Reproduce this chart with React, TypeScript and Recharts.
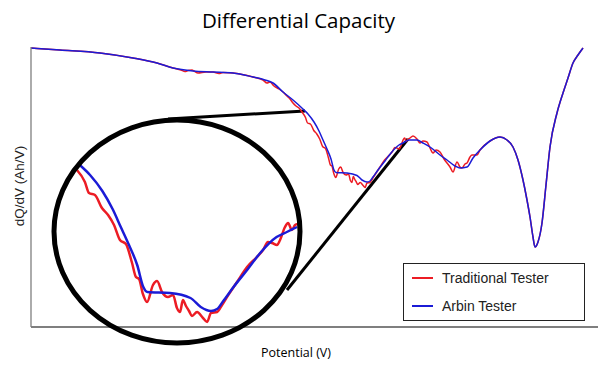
import {
  Legend,
  Line,
  LineChart,
  ReferenceDot,
  ReferenceLine,
  XAxis,
  YAxis,
} from "recharts";

// potential in plot units (0 = left axis), dQ/dV in arbitrary units (0 = bottom axis)
const ARBIN_V = [
  0, 29, 69, 102, 126, 142, 162, 182, 202, 222, 234, 242, 252, 262, 272, 277, 283, 288, 292, 296,
  300, 303, 305, 316, 326, 331, 336, 339, 342, 347, 354, 360, 368, 373, 378, 386, 392, 399, 409, 416,
  424, 429, 436, 442, 449, 459, 469, 476, 482, 487, 492, 496, 499, 502, 504, 507, 511, 515, 519, 526,
  532, 537, 542, 547, 552,
];
const ARBIN_DQDV = [
  279, 277, 274, 269, 264, 259, 256, 255, 254, 250, 247, 244, 235, 227, 218, 213, 205, 196, 187, 178,
  168, 157, 154.5, 154, 151.5, 147, 145, 146, 150, 157, 166, 174, 182, 184.5, 187, 187, 184, 180, 172, 167,
  161, 159, 160, 169, 177, 186, 190, 187, 180, 167, 147, 127, 110, 90, 80, 85, 104, 142, 180, 214,
  234, 249, 264, 272, 279,
];

const TRAD_V = [
  0, 29, 69, 102, 126, 142, 150, 154, 157, 161, 163, 167, 175, 182, 188, 192, 202, 222, 232, 236,
  239, 243, 248, 252, 256, 259, 262, 265, 268,
  270.6, 274.5, 276.5, 279.4, 282.8, 285.8, 288.7, 291.6, 294.5, 297.5, 299.4, 300.9, 302.8, 304.8,
  307.7, 309.7, 312.1, 315, 317.5, 319.4, 320.9, 322.3, 323.8, 325.3, 326.7, 329.2, 332.1, 334.1, 336,
  339, 341.4, 343.8, 348.7, 353.6, 358.4, 361.4, 363.8, 365.8, 368.2, 369.7, 372.1, 373.6, 375.5, 377,
  378.4,
  382, 386, 389, 392, 396, 399, 402, 405, 409, 413, 416, 419, 422, 426, 429, 431, 434, 436, 439, 441,
  446, 449,
  459, 469, 476, 482, 487, 492, 496, 499, 502, 504, 507, 511, 515, 519, 526, 532, 537, 542, 547, 552,
];
const TRAD_DQDV = [
  279, 277, 274, 269, 264, 259, 257, 255.5, 256.5, 257, 256, 254, 255, 255, 253.5, 254.5, 254, 250, 247, 244,
  245, 241, 238, 235, 231, 228, 224, 221, 219,
  215.5, 209.5, 204, 203, 196.5, 193, 188, 180.5, 178.5, 169, 162, 161, 153.5, 149.5,
  158, 160, 154.5, 152, 153, 146.5, 144.5, 150.5, 147.5, 145, 142.5, 144.5, 141.5, 139.5, 144,
  144.5, 148, 152, 159.5, 167, 172, 175.5, 179.5, 179, 178, 180.5, 187, 189, 185.5, 188,
  188.5,
  191, 188, 184, 186, 185, 179, 174, 177, 175, 168, 164, 160, 155, 165, 160, 159, 163, 164, 170, 172,
  172, 177,
  186, 190, 187, 180, 167, 147, 127, 110, 90, 80, 85, 104, 142, 180, 214, 234, 249, 264, 272, 279,
];

const TRAD_NAME = "Traditional Tester";
const ARBIN_NAME = "Arbin Tester";
const LEGEND_ORDER = [TRAD_NAME, ARBIN_NAME];

// x range of the plot, and the magnified window shown inside the circle
const X_MAX = 567;
const ZOOM_FROM = 270;
const ZOOM_TO = 379;

const RED = "#ec1c24";
const BLUE = "#1b1bd6";
const AXIS = "#7f7f7f";

const toPoints = (xs: number[], ys: number[]) => xs.map((x, i) => ({ x, y: ys[i] }));
const arbin = toPoints(ARBIN_V, ARBIN_DQDV);
const trad = toPoints(TRAD_V, TRAD_DQDV);
const inWindow = (p: { x: number }) => p.x >= ZOOM_FROM && p.x <= ZOOM_TO;
const arbinZoom = arbin.filter(inWindow);
const tradZoom = trad.filter(inWindow);

function LegendBox(props: any) {
  const items = (props.payload ?? [])
    .filter((e: any) => e.type !== "none")
    .sort((a: any, b: any) => LEGEND_ORDER.indexOf(a.value) - LEGEND_ORDER.indexOf(b.value));
  return (
    <div
      style={{
        width: 182,
        height: 58,
        boxSizing: "border-box",
        border: "1.5px solid #222",
        background: "#fff",
        fontFamily: '"Liberation Sans", Arial, sans-serif',
        fontSize: 14,
        color: "#222",
      }}
    >
      {items.map((e: any) => (
        <div key={e.value} style={{ display: "flex", alignItems: "center", height: 28 }}>
          <span
            style={{ display: "inline-block", width: 21, height: 2, background: e.color, marginLeft: 7.5, marginRight: 9.5 }}
          />
          {e.value}
        </div>
      ))}
    </div>
  );
}

export default function App() {
  return (
    <div style={{ position: "absolute", left: 0, top: 0, width: 600, height: 389, background: "#fff" }}>
      <div
        style={{
          position: "absolute",
          left: 0,
          top: 10,
          width: 597,
          textAlign: "center",
          fontFamily: '"Open Sans", sans-serif',
          fontSize: 20.5,
          lineHeight: "20px",
          color: "#000",
        }}
      >
        Differential Capacity
      </div>
      <div
        style={{
          position: "absolute",
          left: 196,
          top: 346,
          width: 200,
          textAlign: "center",
          fontFamily: '"Open Sans", sans-serif',
          fontSize: 12.5,
          lineHeight: "14px",
          color: "#000",
        }}
      >
        Potential (V)
      </div>
      <div
        style={{
          position: "absolute",
          left: -40,
          top: 178,
          width: 120,
          height: 16,
          lineHeight: "16px",
          textAlign: "center",
          transform: "rotate(-90deg)",
          fontFamily: '"Liberation Sans", Arial, sans-serif',
          fontSize: 13.5,
          color: "#222",
        }}
      >
        dQ/dV (Ah/V)
      </div>
      {/* bottom axis line, running out to the right edge as in the original */}
      <div style={{ position: "absolute", left: 31, top: 326.4, width: 567, height: 1.3, background: AXIS }} />

      <LineChart width={600} height={389} margin={{ top: 47, right: 2, bottom: 61, left: 30 }}>
        <XAxis
          xAxisId="main"
          dataKey="x"
          type="number"
          domain={[0, X_MAX]}
          allowDataOverflow
          height={1}
          tick={false}
          tickLine={false}
          axisLine={false}
        />
        <YAxis
          yAxisId="main"
          type="number"
          domain={[0, 280]}
          allowDataOverflow
          width={1}
          tick={false}
          tickLine={false}
          axisLine={{ stroke: AXIS, strokeWidth: 1.3 }}
        />
        <XAxis
          xAxisId="inset"
          orientation="top"
          dataKey="x"
          type="number"
          domain={[248.2, 524.8]}
          allowDataOverflow
          height={0}
          hide
        />
        <YAxis yAxisId="inset" type="number" domain={[137, 277]} allowDataOverflow width={0} hide />

        <ReferenceDot
          xAxisId="main"
          yAxisId="main"
          x={146}
          y={95.5}
          r={0}
          shape={(p: any) => (
            <ellipse cx={p.cx} cy={p.cy} rx={123} ry={111.5} fill="none" stroke="#000" strokeWidth={5} />
          )}
        />
        <ReferenceLine
          xAxisId="main"
          yAxisId="main"
          segment={[{ x: 137, y: 208 }, { x: 274, y: 216 }]}
          stroke="#000"
          strokeWidth={3}
        />
        <ReferenceLine
          xAxisId="main"
          yAxisId="main"
          segment={[{ x: 256, y: 37 }, { x: 377, y: 188 }]}
          stroke="#000"
          strokeWidth={3}
        />

        <Line
          xAxisId="main"
          yAxisId="main"
          data={trad}
          dataKey="y"
          name={TRAD_NAME}
          type="monotone"
          stroke={RED}
          strokeWidth={1.5}
          dot={false}
          activeDot={false}
          isAnimationActive={false}
        />
        <Line
          xAxisId="main"
          yAxisId="main"
          data={arbin}
          dataKey="y"
          name={ARBIN_NAME}
          type="monotone"
          stroke={BLUE}
          strokeWidth={1.5}
          dot={false}
          activeDot={false}
          isAnimationActive={false}
        />
        <Line
          xAxisId="inset"
          yAxisId="inset"
          data={tradZoom}
          dataKey="y"
          name="trad-zoom"
          legendType="none"
          type="monotone"
          stroke={RED}
          strokeWidth={2.5}
          dot={false}
          activeDot={false}
          isAnimationActive={false}
        />
        <Line
          xAxisId="inset"
          yAxisId="inset"
          data={arbinZoom}
          dataKey="y"
          name="arbin-zoom"
          legendType="none"
          type="monotone"
          stroke={BLUE}
          strokeWidth={2.5}
          dot={false}
          activeDot={false}
          isAnimationActive={false}
        />

        <Legend
          layout="vertical"
          align="center"
          verticalAlign="middle"
          content={LegendBox}
          wrapperStyle={{ left: 403, top: 263, width: 182 }}
        />
      </LineChart>
    </div>
  );
}
